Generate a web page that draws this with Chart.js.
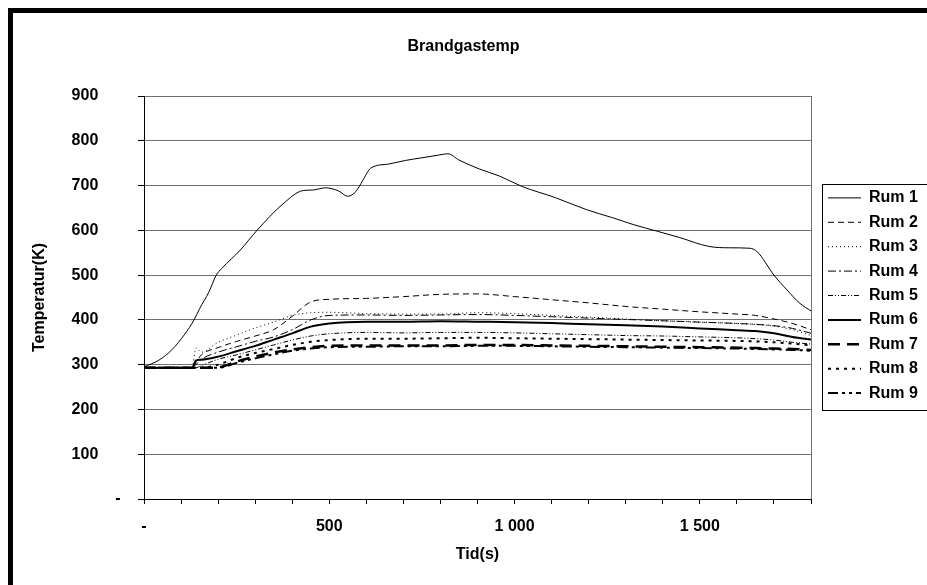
<!DOCTYPE html>
<html>
<head>
<meta charset="utf-8">
<script src="https://cdn.jsdelivr.net/npm/chart.js@4.4.1/dist/chart.umd.min.js"></script>
<style>
html,body{margin:0;padding:0;background:#fff;}
#wrap{position:relative;width:927px;height:585px;overflow:hidden;}
</style>
</head>
<body>
<div id="wrap"><canvas id="c" width="927" height="585"></canvas></div>
<script>
// ---------------- data ----------------
const chartTitle = 'Brandgastemp';
const xTitle = 'Tid(s)';
const yTitle = 'Temperatur(K)';
const seriesNames = ['Rum 1','Rum 2','Rum 3','Rum 4','Rum 5','Rum 6','Rum 7','Rum 8','Rum 9'];

const rum1Time = [0, 40, 75, 110, 135, 150, 175, 195, 210, 260, 305, 375, 430, 455, 490, 525, 550, 572, 590, 612, 660, 705, 750, 795, 820, 850, 905, 960, 1020, 1110, 1195, 1265, 1320, 1385, 1445, 1525, 1580, 1635, 1655, 1700, 1735, 1770, 1800];
const rum1 = [295, 310, 333, 368, 400, 425, 462, 500, 515, 556, 600, 659, 689, 690, 695, 688, 676, 687, 711, 739, 748, 756, 762, 768, 771, 757, 737, 721, 698, 673, 646, 628, 613, 598, 584, 564, 561, 560, 552, 500, 467, 437, 420];

const time = [0, 130, 140, 155, 200, 250, 300, 350, 400, 450, 500, 600, 700, 800, 900, 1000, 1100, 1200, 1300, 1400, 1500, 1600, 1650, 1700, 1750, 1800];
const rum2 = [293, 293, 305, 322, 338, 352, 364, 378, 408, 440, 446, 448, 452, 457, 458, 452, 445, 438, 430, 424, 418, 413, 410, 402, 392, 378];
const rum3 = [293, 293, 337, 328, 350, 366, 382, 395, 410, 416, 417, 414, 413, 413, 416, 414, 410, 406, 402, 398, 395, 392, 390, 386, 378, 365];
const rum4 = [293, 293, 300, 312, 328, 340, 352, 362, 378, 400, 410, 411, 410, 411, 412, 410, 407, 404, 401, 398, 395, 392, 390, 387, 381, 370];
const rum5 = [293, 293, 293, 298, 312, 322, 333, 344, 355, 364, 369, 372, 371, 372, 372, 371, 369, 367, 365, 364, 362, 360, 358, 355, 350, 346];
const rum6 = [293, 293, 309, 311, 318, 330, 342, 356, 370, 385, 392, 396, 396, 397, 396, 395, 393, 390, 388, 385, 381, 377, 375, 370, 362, 356];
const rum7 = [293, 293, 293, 293, 294, 307, 318, 327, 334, 339, 342, 343, 343, 343, 344, 344, 343, 342, 341, 340, 339, 338, 337, 336, 335, 333];
const rum8 = [293, 293, 293, 293, 300, 315, 326, 335, 344, 351, 355, 358, 358, 359, 360, 359, 358, 357, 356, 355, 354, 353, 352, 350, 347, 343];
const rum9 = [293, 293, 293, 293, 293, 304, 314, 323, 331, 336, 339, 340, 341, 341, 342, 342, 341, 340, 339, 338, 337, 336, 335, 334, 333, 331];

const yTickValues = [0, 100, 200, 300, 400, 500, 600, 700, 800, 900];
const yTickLabels = ['-', '100', '200', '300', '400', '500', '600', '700', '800', '900'];
const xTickValues = [0, 500, 1000, 1500];
const xTickLabels = ['-', '500', '1 000', '1 500'];

// ---------------- styles ----------------
const FONT = "'Liberation Sans', Arial, sans-serif";
const font16 = {family: FONT, size: 16, weight: 'bold'};
const lineStyles = [
  {w: 1,   dash: []},
  {w: 1,   dash: [6, 4]},
  {w: 1,   dash: [1, 3]},
  {w: 1,   dash: [8, 3, 2, 3]},
  {w: 1,   dash: [5, 2, 1, 2, 1, 2]},
  {w: 2,   dash: []},
  {w: 2.5, dash: [12, 7]},
  {w: 2,   dash: [3, 5]},
  {w: 2,   dash: [10, 4, 3, 4, 3, 4]}
];

const seriesTimes = [rum1Time, time, time, time, time, time, time, time, time];
const seriesValues = [rum1, rum2, rum3, rum4, rum5, rum6, rum7, rum8, rum9];

const datasets = seriesNames.map((name, i) => ({
  label: name,
  data: seriesTimes[i].map((t, k) => ({x: t, y: seriesValues[i][k]})),
  borderColor: '#000',
  backgroundColor: '#000',
  borderWidth: lineStyles[i].w,
  borderDash: lineStyles[i].dash,
  pointRadius: 0,
  pointHoverRadius: 0,
  pointStyle: 'line',
  cubicInterpolationMode: 'monotone',
  fill: false
}));

const LEG_W = 116;
const LEG_PAD = 8.4;

const framePlugin = {
  id: 'outerFrame',
  beforeDraw(chart) {
    const ctx = chart.ctx;
    ctx.save();
    ctx.fillStyle = '#fff';
    ctx.fillRect(0, 0, chart.width, chart.height);
    ctx.fillStyle = '#000';
    ctx.fillRect(8, 8, chart.width - 8, 5);
    ctx.fillRect(8, 8, 5, chart.height - 8);
    ctx.restore();
  },
  afterDatasetsDraw(chart) {
    const {ctx, chartArea: a} = chart;
    ctx.save();
    ctx.strokeStyle = '#707070';
    ctx.lineWidth = 1;
    ctx.beginPath();
    ctx.moveTo(Math.round(a.right) + 0.5, a.top);
    ctx.lineTo(Math.round(a.right) + 0.5, a.bottom);
    ctx.stroke();
    ctx.restore();
  }
};

const legendFix = {
  id: 'legendFix',
  beforeLayout(chart) {
    const lg = chart.legend;
    if (lg && !lg.__patched) {
      const f = lg.fit;
      lg.fit = function () { f.call(this); this.width = LEG_W; };
      lg.__patched = true;
    }
  },
  afterLayout(chart) {
    const lg = chart.legend;
    if (!lg) return;
    const dx = 8.6, dy = -2;
    lg.left += dx; lg.right += dx;
    lg.top += dy; lg.bottom += dy;
  },
  afterDraw(chart) {
    const lg = chart.legend;
    if (!lg || !lg.columnSizes || !lg.columnSizes.length) return;
    const colH = lg.columnSizes[0].height;
    const y0 = (lg.top + LEG_PAD + lg.bottom - colH) / 2;
    const c1 = y0 + 8;
    const c9 = c1 + 8 * (16 + LEG_PAD);
    const ctx = chart.ctx;
    ctx.save();
    ctx.strokeStyle = '#000';
    ctx.lineWidth = 1;
    const x = Math.round(lg.left + LEG_PAD - 6) + 0.5;
    const top = Math.round(c1 - 14) + 0.5;
    const bot = Math.round(c9 + 17) + 0.5;
    ctx.strokeRect(x, top, 200, bot - top);
    ctx.restore();
  }
};

new Chart(document.getElementById('c'), {
  type: 'line',
  data: {datasets},
  options: {
    responsive: false,
    animation: false,
    devicePixelRatio: 1,
    layout: {padding: 0},
    plugins: {
      title: {
        display: true, text: chartTitle, font: font16, color: '#000',
        padding: {top: 37.4, bottom: 39.4}
      },
      legend: {
        display: true, position: 'right', align: 'center', fullSize: false,
        labels: {
          usePointStyle: true, pointStyle: 'line', pointStyleWidth: 33,
          padding: LEG_PAD, font: font16, color: '#000',
          generateLabels: (chart) => {
            const items = Chart.defaults.plugins.legend.labels.generateLabels(chart);
            items.forEach((it) => {
              const ds = chart.data.datasets[it.datasetIndex];
              it.lineDash = ds.borderDash;
              it.lineWidth = ds.borderWidth;
              it.strokeStyle = ds.borderColor;
              it.lineCap = 'butt';
            });
            return items;
          }
        }
      },
      tooltip: {enabled: false}
    },
    scales: {
      x: {
        type: 'linear', min: 0, max: 1800,
        ticks: {
          stepSize: 100, autoSkip: false, maxRotation: 0, padding: 13,
          font: font16, color: '#000',
          callback: (v) => { const i = xTickValues.indexOf(v); return i >= 0 ? xTickLabels[i] : ''; }
        },
        grid: {drawOnChartArea: false, drawTicks: true, tickLength: 5, tickColor: '#000'},
        border: {display: true, color: '#000', width: 1},
        title: {display: true, text: xTitle, font: font16, color: '#000', padding: {top: 0, bottom: 20.4}},
        afterFit: (s) => { s.height = 86; }
      },
      y: {
        type: 'linear', min: 0, max: 900,
        ticks: {
          stepSize: 100, padding: 17.5, font: font16, color: '#000',
          callback: (v) => {
            const i = yTickValues.indexOf(v);
            if (i < 0) return '';
            const s = yTickLabels[i];
            return s === '-' ? s : s + '\u00a0\u00a0\u00a0\u00a0\u00a0';
          }
        },
        grid: {color: '#707070', tickColor: '#000', tickLength: 6, drawTicks: true},
        border: {display: true, color: '#000', width: 1},
        title: {display: true, text: yTitle, font: font16, color: '#000', padding: {top: 30.4, bottom: 0}},
        afterFit: (s) => { s.width = 144; }
      }
    }
  },
  plugins: [framePlugin, legendFix]
});
</script>
</body>
</html>
